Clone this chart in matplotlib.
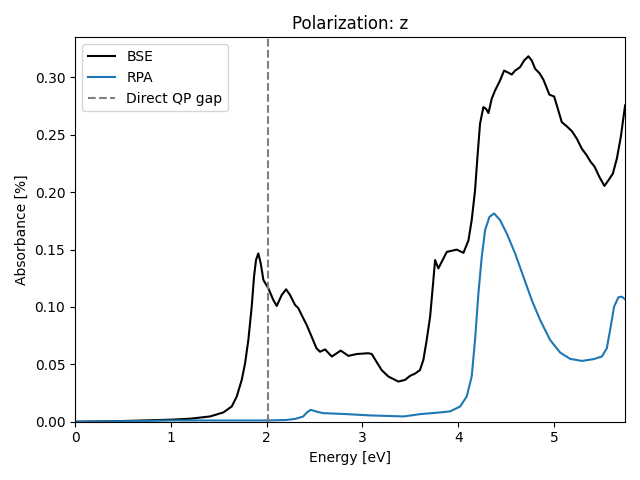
import matplotlib
matplotlib.use("Agg")
import matplotlib.pyplot as plt

# BSE spectrum (energy in eV, absorbance in %)
bse_e = [0.0, 0.5, 1.0, 1.2, 1.409, 1.548, 1.636, 1.688, 1.74, 1.775, 1.809, 1.844,
         1.868, 1.889, 1.913, 1.938, 1.966, 2.018, 2.07, 2.105, 2.157, 2.203, 2.244,
         2.297, 2.33, 2.383, 2.418, 2.47, 2.52, 2.557, 2.61, 2.68, 2.773, 2.853,
         2.94, 3.06, 3.097, 3.148, 3.20, 3.27, 3.375, 3.445, 3.497, 3.55, 3.60,
         3.636, 3.67, 3.706, 3.734, 3.758, 3.792, 3.88, 3.984, 4.054, 4.106, 4.14,
         4.175, 4.2, 4.227, 4.262, 4.29, 4.315, 4.349, 4.384, 4.436, 4.478, 4.513,
         4.558, 4.593, 4.645, 4.687, 4.732, 4.767, 4.802, 4.847, 4.889, 4.951,
         5.0, 5.034, 5.08, 5.133, 5.185, 5.237, 5.289, 5.34, 5.382, 5.42, 5.473,
         5.525, 5.567, 5.613, 5.655, 5.696, 5.741]
bse_a = [0.0, 0.0006, 0.0018, 0.0026, 0.0046, 0.0081, 0.0133, 0.022, 0.0365, 0.051, 0.0713, 0.1003,
         0.1263, 0.141, 0.1467, 0.138, 0.1235, 0.1162, 0.106, 0.1009, 0.1104, 0.1154, 0.1104,
         0.1017, 0.099, 0.090, 0.0843, 0.074, 0.064, 0.061, 0.063, 0.0568, 0.062, 0.0574,
         0.059, 0.0597, 0.059, 0.052, 0.045, 0.0394, 0.035, 0.0365, 0.040, 0.042, 0.045,
         0.054, 0.071, 0.0916, 0.1177, 0.1409, 0.1336, 0.148, 0.150, 0.1472, 0.158, 0.1757,
         0.2017, 0.2307, 0.2597, 0.2742, 0.2727, 0.269, 0.2815, 0.2887, 0.2974, 0.306, 0.3046,
         0.3026, 0.306, 0.309, 0.3148, 0.3185, 0.3148, 0.3076, 0.3038, 0.298, 0.285,
         0.2835, 0.2742, 0.2611, 0.2574, 0.2533, 0.2467, 0.238, 0.2322, 0.2264, 0.2226, 0.2133,
         0.2055, 0.2104, 0.2162, 0.2293, 0.2481, 0.2757]

# RPA spectrum
rpa_e = [0.0, 0.6, 1.0, 1.5, 2.0, 2.2, 2.3, 2.38, 2.42, 2.46, 2.52, 2.59, 2.84, 3.08,
         3.43, 3.60, 3.81, 3.915, 4.02, 4.088, 4.14, 4.175, 4.21, 4.245, 4.28, 4.325,
         4.374, 4.436, 4.506, 4.593, 4.68, 4.767, 4.854, 4.958, 5.063, 5.167, 5.289,
         5.41, 5.498, 5.55, 5.591, 5.626, 5.671, 5.706, 5.741]
rpa_a = [0.0, 0.0005, 0.0011, 0.0011, 0.0011, 0.0015, 0.0025, 0.0045, 0.008, 0.0104, 0.0088, 0.0075, 0.0066, 0.0055,
         0.0046, 0.0066, 0.0081, 0.009, 0.0133, 0.022, 0.0394, 0.0713, 0.1119, 0.1437, 0.167, 0.1785,
         0.1815, 0.1757, 0.164, 0.1467, 0.1263, 0.106, 0.0887, 0.0713, 0.0603, 0.0548, 0.053,
         0.0545, 0.0568, 0.064, 0.0829, 0.1003, 0.1084, 0.109, 0.1067]

qp_gap = 2.015

fig, ax = plt.subplots(figsize=(6.4, 4.8), dpi=100)
ax.plot(bse_e, bse_a, color="k", label="BSE")
ax.plot(rpa_e, rpa_a, color="C0", label="RPA")
ax.axvline(qp_gap, color="grey", linestyle="--", label="Direct QP gap")
ax.set_xlim(0, 5.74)
ax.set_ylim(0, 0.335)
ax.set_xlabel("Energy [eV]")
ax.set_ylabel("Absorbance [%]")
ax.set_title("Polarization: z")
ax.legend(loc="upper left")
fig.tight_layout()
fig.savefig("out.png")
